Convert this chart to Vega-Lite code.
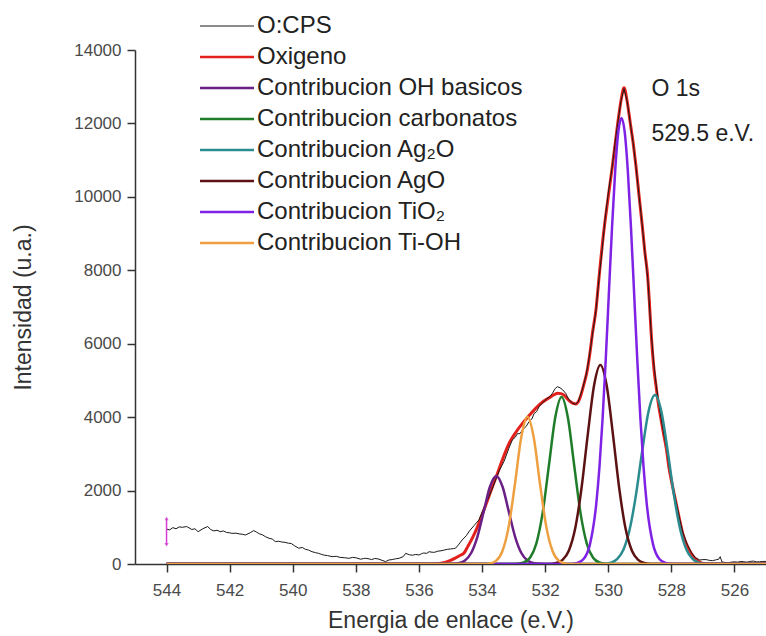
{
  "$schema": "https://vega.github.io/schema/vega-lite/v6.json",
  "width": 631,
  "height": 514,
  "autosize": {"type": "none"},
  "padding": {"left": 135, "top": 50, "right": 0, "bottom": 72},
  "background": "white",
  "config": {
    "view": {"stroke": null},
    "font": "Liberation Sans",
    "axis": {
      "grid": false,
      "domainColor": "#333",
      "domainWidth": 1.5,
      "tickColor": "#333",
      "tickWidth": 1.5,
      "labelFont": "Liberation Sans",
      "labelFontSize": 17,
      "labelColor": "#4a4a4a",
      "titleFont": "Liberation Sans",
      "titleFontSize": 23,
      "titleFontWeight": "normal",
      "titleColor": "#333"
    }
  },
  "datasets": {
    "curves": [
      {"serie":"Oxigeno","e":544,"i":0},{"serie":"Oxigeno","e":535.5,"i":0},{"serie":"Oxigeno","e":535.3,"i":20},{"serie":"Oxigeno","e":535.15,"i":50},{"serie":"Oxigeno","e":535.0,"i":100},{"serie":"Oxigeno","e":534.85,"i":160},{"serie":"Oxigeno","e":534.7,"i":230},{"serie":"Oxigeno","e":534.57,"i":300},{"serie":"Oxigeno","e":534.45,"i":480},{"serie":"Oxigeno","e":534.3,"i":720},{"serie":"Oxigeno","e":534.2,"i":900},{"serie":"Oxigeno","e":534.1,"i":1110},{"serie":"Oxigeno","e":533.95,"i":1450},{"serie":"Oxigeno","e":533.8,"i":1800},{"serie":"Oxigeno","e":533.65,"i":2150},{"serie":"Oxigeno","e":533.51,"i":2470},{"serie":"Oxigeno","e":533.35,"i":2850},{"serie":"Oxigeno","e":533.14,"i":3290},{"serie":"Oxigeno","e":532.95,"i":3560},{"serie":"Oxigeno","e":532.72,"i":3830},{"serie":"Oxigeno","e":532.5,"i":4050},{"serie":"Oxigeno","e":532.3,"i":4240},{"serie":"Oxigeno","e":532.1,"i":4400},{"serie":"Oxigeno","e":531.87,"i":4530},{"serie":"Oxigeno","e":531.7,"i":4620},{"serie":"Oxigeno","e":531.6,"i":4650},{"serie":"Oxigeno","e":531.5,"i":4640},{"serie":"Oxigeno","e":531.4,"i":4600},{"serie":"Oxigeno","e":531.3,"i":4500},{"serie":"Oxigeno","e":531.2,"i":4420},{"serie":"Oxigeno","e":531.1,"i":4370},{"serie":"Oxigeno","e":531.02,"i":4360},{"serie":"Oxigeno","e":530.95,"i":4420},{"serie":"Oxigeno","e":530.88,"i":4560},{"serie":"Oxigeno","e":530.82,"i":4740},{"serie":"Oxigeno","e":530.74,"i":5000},{"serie":"Oxigeno","e":530.66,"i":5300},{"serie":"Oxigeno","e":530.58,"i":5750},{"serie":"Oxigeno","e":530.5,"i":6290},{"serie":"Oxigeno","e":530.39,"i":6920},{"serie":"Oxigeno","e":530.29,"i":7830},{"serie":"Oxigeno","e":530.15,"i":9000},{"serie":"Oxigeno","e":530.0,"i":10000},{"serie":"Oxigeno","e":529.87,"i":10830},{"serie":"Oxigeno","e":529.78,"i":11450},{"serie":"Oxigeno","e":529.7,"i":12000},{"serie":"Oxigeno","e":529.6,"i":12600},{"serie":"Oxigeno","e":529.5,"i":12970},{"serie":"Oxigeno","e":529.4,"i":12600},{"serie":"Oxigeno","e":529.3,"i":12000},{"serie":"Oxigeno","e":529.2,"i":11400},{"serie":"Oxigeno","e":529.12,"i":10830},{"serie":"Oxigeno","e":529.02,"i":10000},{"serie":"Oxigeno","e":528.92,"i":9200},{"serie":"Oxigeno","e":528.84,"i":8500},{"serie":"Oxigeno","e":528.75,"i":7830},{"serie":"Oxigeno","e":528.7,"i":7190},{"serie":"Oxigeno","e":528.64,"i":6290},{"serie":"Oxigeno","e":528.55,"i":5300},{"serie":"Oxigeno","e":528.47,"i":4750},{"serie":"Oxigeno","e":528.43,"i":4470},{"serie":"Oxigeno","e":528.35,"i":4050},{"serie":"Oxigeno","e":528.25,"i":3560},{"serie":"Oxigeno","e":528.15,"i":3100},{"serie":"Oxigeno","e":528.08,"i":2650},{"serie":"Oxigeno","e":527.97,"i":2150},{"serie":"Oxigeno","e":527.87,"i":1740},{"serie":"Oxigeno","e":527.75,"i":1250},{"serie":"Oxigeno","e":527.64,"i":835},{"serie":"Oxigeno","e":527.5,"i":500},{"serie":"Oxigeno","e":527.37,"i":290},{"serie":"Oxigeno","e":527.25,"i":150},{"serie":"Oxigeno","e":527.1,"i":50},{"serie":"Oxigeno","e":527.0,"i":15},{"serie":"Oxigeno","e":526.9,"i":0},{"serie":"Oxigeno","e":525,"i":0},

      {"serie":"O:CPS","e":544,"i":950},{"serie":"O:CPS","e":543.9,"i":930},{"serie":"O:CPS","e":543.8,"i":990},{"serie":"O:CPS","e":543.7,"i":960},{"serie":"O:CPS","e":543.6,"i":1010},{"serie":"O:CPS","e":543.5,"i":1000},{"serie":"O:CPS","e":543.36,"i":1020},{"serie":"O:CPS","e":543.2,"i":940},{"serie":"O:CPS","e":543.1,"i":960},{"serie":"O:CPS","e":543.0,"i":880},{"serie":"O:CPS","e":542.85,"i":960},{"serie":"O:CPS","e":542.7,"i":1020},{"serie":"O:CPS","e":542.6,"i":940},{"serie":"O:CPS","e":542.5,"i":900},{"serie":"O:CPS","e":542.4,"i":920},{"serie":"O:CPS","e":542.3,"i":880},{"serie":"O:CPS","e":542.2,"i":900},{"serie":"O:CPS","e":542.1,"i":860},{"serie":"O:CPS","e":542.0,"i":850},{"serie":"O:CPS","e":541.93,"i":835},{"serie":"O:CPS","e":541.8,"i":840},{"serie":"O:CPS","e":541.7,"i":820},{"serie":"O:CPS","e":541.6,"i":810},{"serie":"O:CPS","e":541.5,"i":790},{"serie":"O:CPS","e":541.35,"i":850},{"serie":"O:CPS","e":541.24,"i":910},{"serie":"O:CPS","e":541.15,"i":870},{"serie":"O:CPS","e":541.05,"i":820},{"serie":"O:CPS","e":540.95,"i":790},{"serie":"O:CPS","e":540.87,"i":745},{"serie":"O:CPS","e":540.75,"i":700},{"serie":"O:CPS","e":540.65,"i":680},{"serie":"O:CPS","e":540.55,"i":610},{"serie":"O:CPS","e":540.45,"i":620},{"serie":"O:CPS","e":540.35,"i":600},{"serie":"O:CPS","e":540.25,"i":590},{"serie":"O:CPS","e":540.13,"i":565},{"serie":"O:CPS","e":540.05,"i":560},{"serie":"O:CPS","e":539.95,"i":500},{"serie":"O:CPS","e":539.81,"i":430},{"serie":"O:CPS","e":539.7,"i":450},{"serie":"O:CPS","e":539.6,"i":400},{"serie":"O:CPS","e":539.5,"i":380},{"serie":"O:CPS","e":539.39,"i":335},{"serie":"O:CPS","e":539.28,"i":310},{"serie":"O:CPS","e":539.18,"i":290},{"serie":"O:CPS","e":539.08,"i":260},{"serie":"O:CPS","e":539.0,"i":240},{"serie":"O:CPS","e":538.9,"i":230},{"serie":"O:CPS","e":538.75,"i":200},{"serie":"O:CPS","e":538.62,"i":210},{"serie":"O:CPS","e":538.5,"i":180},{"serie":"O:CPS","e":538.35,"i":170},{"serie":"O:CPS","e":538.22,"i":155},{"serie":"O:CPS","e":538.1,"i":180},{"serie":"O:CPS","e":538.0,"i":170},{"serie":"O:CPS","e":537.85,"i":130},{"serie":"O:CPS","e":537.75,"i":150},{"serie":"O:CPS","e":537.69,"i":155},{"serie":"O:CPS","e":537.58,"i":140},{"serie":"O:CPS","e":537.5,"i":120},{"serie":"O:CPS","e":537.4,"i":150},{"serie":"O:CPS","e":537.3,"i":140},{"serie":"O:CPS","e":537.2,"i":110},{"serie":"O:CPS","e":537.06,"i":65},{"serie":"O:CPS","e":536.95,"i":110},{"serie":"O:CPS","e":536.85,"i":120},{"serie":"O:CPS","e":536.75,"i":140},{"serie":"O:CPS","e":536.63,"i":155},{"serie":"O:CPS","e":536.5,"i":200},{"serie":"O:CPS","e":536.42,"i":290},{"serie":"O:CPS","e":536.3,"i":250},{"serie":"O:CPS","e":536.2,"i":240},{"serie":"O:CPS","e":536.1,"i":260},{"serie":"O:CPS","e":536.0,"i":245},{"serie":"O:CPS","e":535.92,"i":280},{"serie":"O:CPS","e":535.85,"i":300},{"serie":"O:CPS","e":535.75,"i":290},{"serie":"O:CPS","e":535.68,"i":335},{"serie":"O:CPS","e":535.58,"i":320},{"serie":"O:CPS","e":535.5,"i":320},{"serie":"O:CPS","e":535.4,"i":350},{"serie":"O:CPS","e":535.3,"i":360},{"serie":"O:CPS","e":535.2,"i":380},{"serie":"O:CPS","e":535.1,"i":400},{"serie":"O:CPS","e":535.0,"i":410},{"serie":"O:CPS","e":534.9,"i":420},{"serie":"O:CPS","e":534.84,"i":430},{"serie":"O:CPS","e":534.75,"i":520},{"serie":"O:CPS","e":534.63,"i":655},{"serie":"O:CPS","e":534.5,"i":770},{"serie":"O:CPS","e":534.4,"i":900},{"serie":"O:CPS","e":534.25,"i":1050},{"serie":"O:CPS","e":534.1,"i":1200},{"serie":"O:CPS","e":533.98,"i":1450},{"serie":"O:CPS","e":533.85,"i":1700},{"serie":"O:CPS","e":533.7,"i":2000},{"serie":"O:CPS","e":533.57,"i":2290},{"serie":"O:CPS","e":533.45,"i":2550},{"serie":"O:CPS","e":533.3,"i":2800},{"serie":"O:CPS","e":533.15,"i":3150},{"serie":"O:CPS","e":533.04,"i":3380},{"serie":"O:CPS","e":532.95,"i":3450},{"serie":"O:CPS","e":532.88,"i":3550},{"serie":"O:CPS","e":532.8,"i":3550},{"serie":"O:CPS","e":532.72,"i":3650},{"serie":"O:CPS","e":532.6,"i":3750},{"serie":"O:CPS","e":532.51,"i":3880},{"serie":"O:CPS","e":532.42,"i":3950},{"serie":"O:CPS","e":532.35,"i":4100},{"serie":"O:CPS","e":532.27,"i":4150},{"serie":"O:CPS","e":532.19,"i":4290},{"serie":"O:CPS","e":532.07,"i":4400},{"serie":"O:CPS","e":531.95,"i":4500},{"serie":"O:CPS","e":531.85,"i":4560},{"serie":"O:CPS","e":531.77,"i":4650},{"serie":"O:CPS","e":531.68,"i":4780},{"serie":"O:CPS","e":531.61,"i":4830},{"serie":"O:CPS","e":531.53,"i":4800},{"serie":"O:CPS","e":531.45,"i":4750},{"serie":"O:CPS","e":531.35,"i":4650},{"serie":"O:CPS","e":531.25,"i":4480},{"serie":"O:CPS","e":531.13,"i":4380},{"serie":"O:CPS","e":531.05,"i":4350},{"serie":"O:CPS","e":530.95,"i":4420},{"serie":"O:CPS","e":530.82,"i":4760},{"serie":"O:CPS","e":530.7,"i":5150},{"serie":"O:CPS","e":530.6,"i":5650},{"serie":"O:CPS","e":530.5,"i":6250},{"serie":"O:CPS","e":530.39,"i":6900},{"serie":"O:CPS","e":530.29,"i":7800},{"serie":"O:CPS","e":530.2,"i":8500},{"serie":"O:CPS","e":530.1,"i":9400},{"serie":"O:CPS","e":530.0,"i":10100},{"serie":"O:CPS","e":529.87,"i":10850},{"serie":"O:CPS","e":529.78,"i":11500},{"serie":"O:CPS","e":529.7,"i":12000},{"serie":"O:CPS","e":529.6,"i":12600},{"serie":"O:CPS","e":529.5,"i":12950},{"serie":"O:CPS","e":529.4,"i":12600},{"serie":"O:CPS","e":529.3,"i":12000},{"serie":"O:CPS","e":529.2,"i":11400},{"serie":"O:CPS","e":529.12,"i":10800},{"serie":"O:CPS","e":529.02,"i":10000},{"serie":"O:CPS","e":528.92,"i":9200},{"serie":"O:CPS","e":528.84,"i":8500},{"serie":"O:CPS","e":528.75,"i":7800},{"serie":"O:CPS","e":528.64,"i":6300},{"serie":"O:CPS","e":528.55,"i":5400},{"serie":"O:CPS","e":528.47,"i":4800},{"serie":"O:CPS","e":528.35,"i":4100},{"serie":"O:CPS","e":528.25,"i":3600},{"serie":"O:CPS","e":528.15,"i":3150},{"serie":"O:CPS","e":528.08,"i":2700},{"serie":"O:CPS","e":527.97,"i":2200},{"serie":"O:CPS","e":527.87,"i":1780},{"serie":"O:CPS","e":527.75,"i":1280},{"serie":"O:CPS","e":527.64,"i":870},{"serie":"O:CPS","e":527.5,"i":540},{"serie":"O:CPS","e":527.37,"i":320},{"serie":"O:CPS","e":527.25,"i":180},{"serie":"O:CPS","e":527.1,"i":110},{"serie":"O:CPS","e":527.0,"i":120},{"serie":"O:CPS","e":526.9,"i":120},{"serie":"O:CPS","e":526.8,"i":100},{"serie":"O:CPS","e":526.7,"i":90},{"serie":"O:CPS","e":526.6,"i":110},{"serie":"O:CPS","e":526.5,"i":130},{"serie":"O:CPS","e":526.45,"i":200},{"serie":"O:CPS","e":526.4,"i":60},{"serie":"O:CPS","e":526.3,"i":40},{"serie":"O:CPS","e":526.2,"i":30},{"serie":"O:CPS","e":526.1,"i":50},{"serie":"O:CPS","e":526.0,"i":60},{"serie":"O:CPS","e":525.9,"i":50},{"serie":"O:CPS","e":525.8,"i":70},{"serie":"O:CPS","e":525.7,"i":60},{"serie":"O:CPS","e":525.6,"i":50},{"serie":"O:CPS","e":525.5,"i":70},{"serie":"O:CPS","e":525.4,"i":80},{"serie":"O:CPS","e":525.3,"i":60},{"serie":"O:CPS","e":525.2,"i":60},{"serie":"O:CPS","e":525.1,"i":70},{"serie":"O:CPS","e":525.0,"i":70},

      {"serie":"Contribucion OH basicos","e":544,"i":0},{"serie":"Contribucion OH basicos","e":535.15,"i":0},{"serie":"Contribucion OH basicos","e":534.95,"i":4},{"serie":"Contribucion OH basicos","e":534.75,"i":21},{"serie":"Contribucion OH basicos","e":534.55,"i":90},{"serie":"Contribucion OH basicos","e":534.35,"i":293},{"serie":"Contribucion OH basicos","e":534.15,"i":734},{"serie":"Contribucion OH basicos","e":533.95,"i":1418},{"serie":"Contribucion OH basicos","e":533.75,"i":2105},{"serie":"Contribucion OH basicos","e":533.55,"i":2400},{"serie":"Contribucion OH basicos","e":533.35,"i":2105},{"serie":"Contribucion OH basicos","e":533.15,"i":1418},{"serie":"Contribucion OH basicos","e":532.95,"i":734},{"serie":"Contribucion OH basicos","e":532.75,"i":293},{"serie":"Contribucion OH basicos","e":532.55,"i":90},{"serie":"Contribucion OH basicos","e":532.35,"i":21},{"serie":"Contribucion OH basicos","e":532.15,"i":4},{"serie":"Contribucion OH basicos","e":531.95,"i":0},{"serie":"Contribucion OH basicos","e":525,"i":0},

      {"serie":"Contribucion carbonatos","e":544,"i":0},{"serie":"Contribucion carbonatos","e":533.08,"i":0},{"serie":"Contribucion carbonatos","e":532.88,"i":7},{"serie":"Contribucion carbonatos","e":532.68,"i":40},{"serie":"Contribucion carbonatos","e":532.48,"i":170},{"serie":"Contribucion carbonatos","e":532.28,"i":555},{"serie":"Contribucion carbonatos","e":532.08,"i":1392},{"serie":"Contribucion carbonatos","e":531.88,"i":2689},{"serie":"Contribucion carbonatos","e":531.68,"i":3990},{"serie":"Contribucion carbonatos","e":531.48,"i":4550},{"serie":"Contribucion carbonatos","e":531.28,"i":3990},{"serie":"Contribucion carbonatos","e":531.08,"i":2689},{"serie":"Contribucion carbonatos","e":530.88,"i":1392},{"serie":"Contribucion carbonatos","e":530.68,"i":555},{"serie":"Contribucion carbonatos","e":530.48,"i":170},{"serie":"Contribucion carbonatos","e":530.28,"i":40},{"serie":"Contribucion carbonatos","e":530.08,"i":7},{"serie":"Contribucion carbonatos","e":529.88,"i":0},{"serie":"Contribucion carbonatos","e":525,"i":0},

      {"serie":"Contribucion Ag₂O","e":544,"i":0},{"serie":"Contribucion Ag₂O","e":530.12,"i":0},{"serie":"Contribucion Ag₂O","e":529.92,"i":36},{"serie":"Contribucion Ag₂O","e":529.72,"i":132},{"serie":"Contribucion Ag₂O","e":529.52,"i":390},{"serie":"Contribucion Ag₂O","e":529.32,"i":948},{"serie":"Contribucion Ag₂O","e":529.12,"i":1891},{"serie":"Contribucion Ag₂O","e":528.92,"i":3100},{"serie":"Contribucion Ag₂O","e":528.72,"i":4168},{"serie":"Contribucion Ag₂O","e":528.52,"i":4600},{"serie":"Contribucion Ag₂O","e":528.32,"i":4168},{"serie":"Contribucion Ag₂O","e":528.12,"i":3100},{"serie":"Contribucion Ag₂O","e":527.92,"i":1891},{"serie":"Contribucion Ag₂O","e":527.72,"i":948},{"serie":"Contribucion Ag₂O","e":527.52,"i":390},{"serie":"Contribucion Ag₂O","e":527.32,"i":132},{"serie":"Contribucion Ag₂O","e":527.12,"i":36},{"serie":"Contribucion Ag₂O","e":526.92,"i":0},{"serie":"Contribucion Ag₂O","e":525,"i":0},

      {"serie":"Contribucion AgO","e":544,"i":0},{"serie":"Contribucion AgO","e":531.85,"i":0},{"serie":"Contribucion AgO","e":531.65,"i":27},{"serie":"Contribucion AgO","e":531.45,"i":111},{"serie":"Contribucion AgO","e":531.25,"i":363},{"serie":"Contribucion AgO","e":531.05,"i":959},{"serie":"Contribucion AgO","e":530.85,"i":2049},{"serie":"Contribucion AgO","e":530.65,"i":3518},{"serie":"Contribucion AgO","e":530.45,"i":4862},{"serie":"Contribucion AgO","e":530.25,"i":5420},{"serie":"Contribucion AgO","e":530.05,"i":4862},{"serie":"Contribucion AgO","e":529.85,"i":3518},{"serie":"Contribucion AgO","e":529.65,"i":2049},{"serie":"Contribucion AgO","e":529.45,"i":959},{"serie":"Contribucion AgO","e":529.25,"i":363},{"serie":"Contribucion AgO","e":529.05,"i":111},{"serie":"Contribucion AgO","e":528.85,"i":27},{"serie":"Contribucion AgO","e":528.65,"i":0},{"serie":"Contribucion AgO","e":525,"i":0},

      {"serie":"Contribucion TiO₂","e":544,"i":0},{"serie":"Contribucion TiO₂","e":531.18,"i":0},{"serie":"Contribucion TiO₂","e":530.98,"i":27},{"serie":"Contribucion TiO₂","e":530.78,"i":134},{"serie":"Contribucion TiO₂","e":530.58,"i":535},{"serie":"Contribucion TiO₂","e":530.38,"i":1640},{"serie":"Contribucion TiO₂","e":530.28,"i":2628},{"serie":"Contribucion TiO₂","e":530.18,"i":3949},{"serie":"Contribucion TiO₂","e":530.08,"i":5563},{"serie":"Contribucion TiO₂","e":529.98,"i":7375},{"serie":"Contribucion TiO₂","e":529.88,"i":9173},{"serie":"Contribucion TiO₂","e":529.78,"i":10716},{"serie":"Contribucion TiO₂","e":529.68,"i":11777},{"serie":"Contribucion TiO₂","e":529.58,"i":12150},{"serie":"Contribucion TiO₂","e":529.48,"i":11777},{"serie":"Contribucion TiO₂","e":529.38,"i":10716},{"serie":"Contribucion TiO₂","e":529.28,"i":9173},{"serie":"Contribucion TiO₂","e":529.18,"i":7375},{"serie":"Contribucion TiO₂","e":529.08,"i":5563},{"serie":"Contribucion TiO₂","e":528.98,"i":3949},{"serie":"Contribucion TiO₂","e":528.88,"i":2628},{"serie":"Contribucion TiO₂","e":528.78,"i":1640},{"serie":"Contribucion TiO₂","e":528.58,"i":535},{"serie":"Contribucion TiO₂","e":528.38,"i":134},{"serie":"Contribucion TiO₂","e":528.18,"i":27},{"serie":"Contribucion TiO₂","e":527.98,"i":0},{"serie":"Contribucion TiO₂","e":525,"i":0},

      {"serie":"Contribucion Ti-OH","e":544,"i":0},{"serie":"Contribucion Ti-OH","e":533.96,"i":0},{"serie":"Contribucion Ti-OH","e":533.76,"i":15},{"serie":"Contribucion Ti-OH","e":533.56,"i":85},{"serie":"Contribucion Ti-OH","e":533.36,"i":340},{"serie":"Contribucion Ti-OH","e":533.16,"i":998},{"serie":"Contribucion Ti-OH","e":532.96,"i":2161},{"serie":"Contribucion Ti-OH","e":532.76,"i":3437},{"serie":"Contribucion Ti-OH","e":532.56,"i":4010},{"serie":"Contribucion Ti-OH","e":532.36,"i":3437},{"serie":"Contribucion Ti-OH","e":532.16,"i":2161},{"serie":"Contribucion Ti-OH","e":531.96,"i":998},{"serie":"Contribucion Ti-OH","e":531.76,"i":340},{"serie":"Contribucion Ti-OH","e":531.56,"i":85},{"serie":"Contribucion Ti-OH","e":531.36,"i":15},{"serie":"Contribucion Ti-OH","e":531.16,"i":0},{"serie":"Contribucion Ti-OH","e":525,"i":0}
    ],
    "notes": [
      {"e": 528.63, "i": 12940, "texto": "O 1s"},
      {"e": 528.63, "i": 11700, "texto": "529.5 e.V."}
    ],
    "marker": [
      {"e": 544, "lo": 520, "hi": 1245}
    ]
  },
  "layer": [
    {
      "data": {"name": "curves"},
      "transform": [{"filter": "datum.serie === 'Oxigeno'"}],
      "mark": {"type": "line", "strokeWidth": 3, "interpolate": "monotone", "clip": true},
      "encoding": {
        "x": {"field": "e", "type": "quantitative",
          "scale": {"domain": [525, 545], "reverse": true, "nice": false, "zero": false},
          "axis": {
            "title": "Energia de enlace (e.V.)",
            "values": [526,527,528,529,530,531,532,533,534,535,536,537,538,539,540,541,542,543,544],
            "labelExpr": "datum.value % 2 === 0 ? datum.label : ''",
            "format": "d",
            "tickSize": {"condition": {"test": "datum.value % 2 === 0", "value": 8}, "value": 4},
            "labelPadding": 10,
            "titlePadding": 11
          }
        },
        "y": {"field": "i", "type": "quantitative",
          "scale": {"domain": [0, 14000], "nice": false, "zero": true},
          "axis": {
            "title": "Intensidad (u.a.)",
            "values": [0,1000,2000,3000,4000,5000,6000,7000,8000,9000,10000,11000,12000,13000,14000],
            "labelExpr": "datum.value % 2000 === 0 ? datum.label : ''",
            "format": "d",
            "tickSize": {"condition": {"test": "datum.value % 2000 === 0", "value": 8}, "value": 4},
            "labelPadding": 6,
            "titlePadding": 38
          }
        },
        "color": {"field": "serie", "type": "nominal",
          "scale": {
            "domain": ["O:CPS","Oxigeno","Contribucion OH basicos","Contribucion carbonatos","Contribucion Ag₂O","Contribucion AgO","Contribucion TiO₂","Contribucion Ti-OH"],
            "range": ["#1a1a1a","#e3211c","#6a1f86","#1f7d2a","#2b8c8f","#5c1212","#7f22e6","#eea040"]
          },
          "legend": {
            "orient": "none",
            "legendX": 80,
            "legendY": -36,
            "title": null,
            "padding": 0,
            "symbolType": "M-1.8,0H1.8",
            "symbolSize": 900,
            "symbolStrokeWidth": 2.5,
            "labelFont": "Liberation Sans",
            "labelFontSize": 24,
            "labelColor": "#222",
            "labelOffset": 18,
            "rowPadding": 7,
            "labelLimit": 400,
            "encode": {"symbols": {"update": {"strokeWidth": {"signal": "datum.value === 'O:CPS' ? 1 : 2.5"}}}}
          }
        }
      }
    },
    {
      "data": {"name": "curves"},
      "transform": [{"filter": "datum.serie === 'O:CPS'"}],
      "mark": {"type": "line", "strokeWidth": 1, "clip": true},
      "encoding": {
        "x": {"field": "e", "type": "quantitative"},
        "y": {"field": "i", "type": "quantitative"},
        "color": {"field": "serie", "type": "nominal"}
      }
    },
    {
      "data": {"name": "curves"},
      "transform": [{"filter": "datum.serie !== 'O:CPS' && datum.serie !== 'Oxigeno'"}],
      "mark": {"type": "line", "strokeWidth": 2.5, "interpolate": "monotone", "clip": true},
      "encoding": {
        "x": {"field": "e", "type": "quantitative"},
        "y": {"field": "i", "type": "quantitative"},
        "color": {"field": "serie", "type": "nominal"}
      }
    },
    {
      "data": {"name": "marker"},
      "mark": {"type": "rule", "color": "#d23cd2", "strokeWidth": 1.5},
      "encoding": {
        "x": {"field": "e", "type": "quantitative"},
        "y": {"field": "lo", "type": "quantitative"},
        "y2": {"field": "hi"}
      }
    },
    {
      "data": {"name": "marker"},
      "mark": {"type": "point", "shape": "triangle-up", "filled": true, "color": "#d23cd2", "size": 18},
      "encoding": {
        "x": {"field": "e", "type": "quantitative"},
        "y": {"field": "hi", "type": "quantitative"}
      }
    },
    {
      "data": {"name": "marker"},
      "mark": {"type": "point", "shape": "triangle-down", "filled": true, "color": "#d23cd2", "size": 18},
      "encoding": {
        "x": {"field": "e", "type": "quantitative"},
        "y": {"field": "lo", "type": "quantitative"}
      }
    },
    {
      "data": {"name": "notes"},
      "mark": {"type": "text", "align": "left", "baseline": "middle", "font": "Liberation Sans", "fontSize": 23, "color": "#222"},
      "encoding": {
        "x": {"field": "e", "type": "quantitative"},
        "y": {"field": "i", "type": "quantitative"},
        "text": {"field": "texto"}
      }
    }
  ]
}
